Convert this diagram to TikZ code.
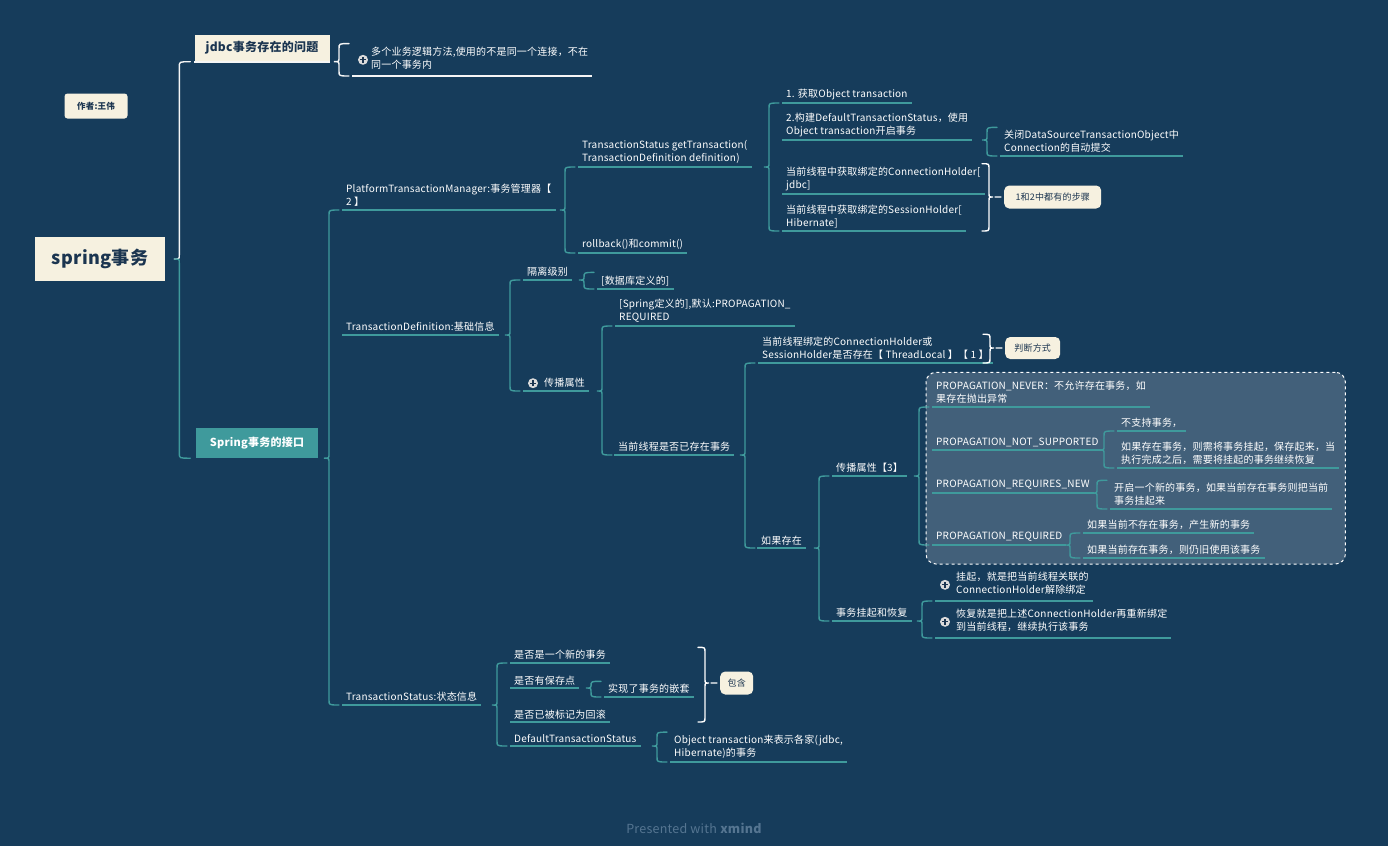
\documentclass[tikz,border=0pt]{standalone}
\usepackage{fontspec}
\setmainfont{Noto Sans CJK SC}[LetterSpace=2]
\usetikzlibrary{calc, fit, backgrounds}
\definecolor{bg}{HTML}{163C5B}
\definecolor{teal}{HTML}{3F9A9C}
\definecolor{cream}{HTML}{F6F1E0}
\definecolor{navy}{HTML}{1B3550}
\definecolor{grpfill}{HTML}{42607A}
\definecolor{wmark}{HTML}{557591}

% brace from a parent's underline to its children
\newcommand\brc[4][teal]{%
  \draw[br, draw=#1] let \p1=(#2.south east), \p2=#3, \p3=#4 in
    ({\x2-3pt},\y2) .. controls ({\x2-13pt},\y2) .. ({\x2-13pt},{\y2-5pt})
    -- ({\x2-13pt},{\y1+4pt}) .. controls ({\x2-13pt},\y1) .. ({\x2-18pt},\y1)
    .. controls ({\x2-13pt},\y1) .. ({\x2-13pt},{\y1-4pt})
    -- ({\x2-13pt},{\y3+5pt}) .. controls ({\x2-13pt},\y3) .. ({\x2-3pt},\y3);}
% summary bracket on the right, pointing to a label
\newcommand\smr[3]{%
  \draw[br, draw=white] let \p1=(#3.west), \p2=(#1.north east), \p3=(#2.south east) in
    ({\x1-22pt},\y2) .. controls ({\x1-15pt},\y2) .. ({\x1-15pt},{\y2-5pt})
    -- ({\x1-15pt},{\y1+4pt}) .. controls ({\x1-15pt},\y1) .. ({\x1-11pt},\y1)
    .. controls ({\x1-15pt},\y1) .. ({\x1-15pt},{\y1-4pt})
    -- ({\x1-15pt},{\y3+5pt}) .. controls ({\x1-15pt},\y3) .. ({\x1-22pt},\y3)
    ({\x1-9pt},\y1) -- ({\x1-3pt},\y1);}
\newcommand\twoln[2]{\begin{tabular}[c]{@{}l@{}}#1\\#2\end{tabular}}

\begin{document}
\begin{tikzpicture}[x=1pt, y=-1pt,
  font=\fontsize{10}{13}\selectfont,
  ul/.style={draw=teal, line width=1.8pt},
  tx/.style={anchor=south west, text=white, inner xsep=4pt, inner ysep=3pt, align=left},
  tp/.style={tx, append after command={(\tikzlastnode.south west) edge[ul] (\tikzlastnode.south east)}},
  tpw/.style={tx, append after command={(\tikzlastnode.south west) edge[ul, draw=white!92!gray] (\tikzlastnode.south east)}},
  br/.style={line width=1.4pt, line cap=round},
  cb/.style={fill=cream, text=navy, rounded corners=5pt, anchor=west, inner sep=2pt,
             font=\fontsize{9}{10}\selectfont},
  pl/.style={circle, fill=gray!28, minimum size=10pt, inner sep=0pt,
             path picture={\draw[navy, line width=1.2pt]
               ([xshift=-3pt]path picture bounding box.center) -- ([xshift=3pt]path picture bounding box.center)
               ([yshift=-3pt]path picture bounding box.center) -- ([yshift=3pt]path picture bounding box.center);}},
  grp/.style={draw=white, dashed, line width=1pt, fill=grpfill, rounded corners=10pt, inner sep=6pt}]
\useasboundingbox (0,0) rectangle (1388,846);

% boxes on the left
\node[fill=cream, text=navy, font=\fontsize{18}{20}\selectfont\bfseries,
      minimum width=130pt, minimum height=44pt] (root) at (100,259) {spring事务};
\node[fill=cream, text=navy, rounded corners=3pt, font=\fontsize{8.5}{10}\selectfont\bfseries,
      minimum width=63pt, minimum height=25pt] (author) at (96,106) {作者:王伟};
\node[fill=cream, text=navy, font=\fontsize{12}{14}\selectfont\bfseries,
      minimum width=135pt, minimum height=27pt,
      append after command={(\tikzlastnode.south west) edge[ul, draw=white!92!gray] (\tikzlastnode.south east)}]
      (jdbc) at (262,48) {jdbc事务存在的问题};
\node[fill=teal, text=white, font=\fontsize{11}{13}\selectfont\bfseries,
      minimum width=122pt, minimum height=30pt] (iface) at (257,443) {Spring事务的接口};

\node[tpw] (jprob) at (352,76) {\hspace*{15pt}\twoln{多个业务逻辑方法,使用的不是同一个连接，不在}{同一个事务内}};
\node[pl] (jplus) at ([xshift=11pt]jprob.west) {};

% PlatformTransactionManager
\node[tp] (ptm) at (342,210) {PlatformTransactionManager:事务管理器【\\2 】};
\node[tp] (gett) at (578,167) {TransactionStatus getTransaction(\\TransactionDefinition definition)};
\node[tp] (rbc) at (578,253) {rollback()和commit()};
\node[tp] (g1) at (782,103) {1. 获取Object transaction};
\node[tp] (g2) at (782,140) {2.构建DefaultTransactionStatus，使用\\Object transaction开启事务};
\node[tp] (g3) at (782,194) {当前线程中获取绑定的ConnectionHolder[\\jdbc]};
\node[tp] (g4) at (782,231) {当前线程中获取绑定的SessionHolder[\\Hibernate]};
\node[tp] (g2a) at (1000,156) {关闭DataSourceTransactionObject中\\Connection的自动提交};
\node[cb, minimum width=97pt, minimum height=23pt] (both) at (1004,197) {1和2中都有的步骤};

% TransactionDefinition
\node[tp] (tdef) at (342,335) {TransactionDefinition:基础信息};
\node[tp] (iso) at (523,280) {隔离级别};
\node[tp] (isoa) at (597,289) {[数据库定义的]};
\node[tp] (prop) at (523,391) {\hspace*{17pt}传播属性};
\node[pl] (pplus) at ([xshift=10pt]prop.west) {};
\node[tp] (propa) at (615,326) {[Spring定义的],默认:PROPAGATION\_\\REQUIRED};
\node[tp] (propb) at (614,455) {当前线程是否已存在事务};
\node[tp] (tl) at (758,363) {当前线程绑定的ConnectionHolder或\\SessionHolder是否存在【 ThreadLocal 】【 1 】};
\node[cb, minimum width=55pt, minimum height=22pt] (judge) at (1005,348) {判断方式};
\node[tp] (ifex) at (757,548) {如果存在};
\node[tp] (prop3) at (832,476) {传播属性【3】};
\node[tp] (susp) at (832,621) {事务挂起和恢复};
\node[tp] (pnever) at (932,407) {PROPAGATION\_NEVER：不允许存在事务，如\\果存在抛出异常};
\node[tp] (pns) at (932,450) {PROPAGATION\_NOT\_SUPPORTED};
\node[tp] (prn) at (932,493) {PROPAGATION\_REQUIRES\_NEW};
\node[tp] (preq) at (932,545) {PROPAGATION\_REQUIRED};
\node[tp] (pns1) at (1117,431) {不支持事务，};
\node[tp] (pns2) at (1117,468) {如果存在事务，则需将事务挂起，保存起来，当\\执行完成之后，需要将挂起的事务继续恢复};
\node[tp] (prn1) at (1110,509) {开启一个新的事务，如果当前存在事务则把当前\\事务挂起来};
\node[tp] (preq1) at (1083,533) {如果当前不存在事务，产生新的事务};
\node[tp] (preq2) at (1083,558) {如果当前存在事务，则仍旧使用该事务};
\node[tp] (susp1) at (935,601) {\hspace*{17pt}\twoln{挂起，就是把当前线程关联的}{ConnectionHolder解除绑定}};
\node[pl] (s1plus) at ([xshift=10pt]susp1.west) {};
\node[tp] (susp2) at (935,638) {\hspace*{17pt}\twoln{恢复就是把上述ConnectionHolder再重新绑定}{到当前线程，继续执行该事务}};
\node[pl] (s2plus) at ([xshift=10pt]susp2.west) {};

% TransactionStatus
\node[tp] (tstat) at (342,705) {TransactionStatus:状态信息};
\node[tp] (ts1) at (510,663) {是否是一个新的事务};
\node[tp] (ts2) at (510,688) {是否有保存点};
\node[tp] (ts3) at (510,722) {是否已被标记为回滚};
\node[tp] (ts4) at (510,746) {DefaultTransactionStatus};
\node[tp] (ts2a) at (604,697) {实现了事务的嵌套};
\node[cb, minimum width=33pt, minimum height=23pt] (incl) at (720,683) {包含};
\node[tp] (ts4a) at (670,762) {Object transaction来表示各家(jdbc,\\Hibernate)的事务};

\node[text=wmark, font=\fontsize{12.5}{14}\selectfont] (wm) at (694,828) {Presented with \textbf{xmind}};

\begin{scope}[on background layer]
  \fill[bg] (0,0) rectangle (1388,846);
  \node[grp, fit=(pnever)(pns2)(prn1)(preq2)] (grpbox) {};
\end{scope}

% root brace, white above and teal below
\draw[br, draw=white!92!gray] let \p1=(root.east), \p2=(jdbc.south west) in
  ({\x2-4pt},\y2) .. controls ({\x2-15pt},\y2) .. ({\x2-15pt},{\y2-5pt})
  -- ({\x2-15pt},{\y1+4pt}) .. controls ({\x2-15pt},\y1) .. ({\x2-20pt},\y1);
\draw[br, draw=teal] let \p1=(root.east), \p2=(jdbc.south west), \p3=(iface.south west) in
  ({\x2-20pt},\y1) .. controls ({\x2-15pt},\y1) .. ({\x2-15pt},{\y1-4pt})
  -- ({\x2-15pt},{\y3+5pt}) .. controls ({\x2-15pt},\y3) .. ({\x2-4pt},\y3);

\brc[white!92!gray]{jdbc}{(jprob.north west)}{(jprob.south west)}
\brc{iface}{(ptm.south west)}{(tstat.south west)}
\brc{ptm}{(gett.south west)}{(rbc.south west)}
\brc{gett}{(g1.south west)}{(g4.south west)}
\brc{g2}{(g2a.north west)}{(g2a.south west)}
\smr{g3}{g4}{both}
\brc{tdef}{(iso.south west)}{(prop.south west)}
\brc{iso}{(isoa.north west)}{(isoa.south west)}
\brc{prop}{(propa.south west)}{(propb.south west)}
\brc{propb}{(tl.south west)}{(ifex.south west)}
\smr{tl}{tl}{judge}
\brc{ifex}{(prop3.south west)}{(susp.south west)}
\brc{prop3}{(pnever.south west)}{(preq.south west)}
\brc{pns}{(pns1.south west)}{(pns2.south west)}
\brc{prn}{(prn1.north west)}{(prn1.south west)}
\brc{preq}{(preq1.south west)}{(preq2.south west)}
\brc{susp}{(susp1.south west)}{(susp2.south west)}
\brc{tstat}{(ts1.south west)}{(ts4.south west)}
\brc{ts2}{(ts2a.north west)}{(ts2a.south west)}
\smr{ts1}{ts3}{incl}
\brc{ts4}{(ts4a.north west)}{(ts4a.south west)}
\end{tikzpicture}
\end{document}
